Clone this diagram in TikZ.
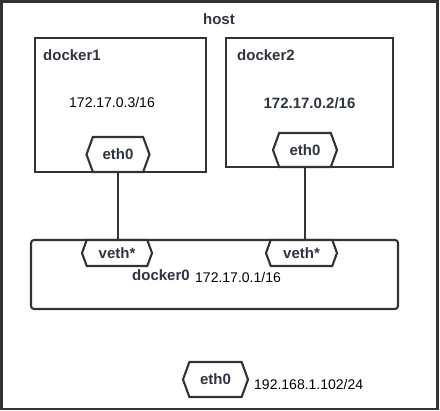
\documentclass[tikz,border=0pt]{standalone}
\usepackage{fontspec}
\setmainfont{Liberation Sans}
\usetikzlibrary{shapes.symbols}
\definecolor{linec}{HTML}{333333}
\definecolor{txtc}{HTML}{2F3540}
\tikzset{
  boxc/.style={draw=linec, line width=2.1pt},
  hexa/.style={signal, signal to=west and east, signal pointer angle=140, draw=linec, line width=2.1pt, fill=white, inner sep=0pt, text=txtc, font=\bfseries\fontsize{15}{15}\selectfont},
  blabel/.style={text=txtc, font=\bfseries\fontsize{15}{15}\selectfont, inner sep=0pt},
  iplabel/.style={text=black, font=\fontsize{14}{14}\selectfont, inner sep=0pt},
  wire/.style={draw=linec, line width=2.1pt}
}
\begin{document}
\begin{tikzpicture}[x=1pt,y=-1pt]
\useasboundingbox (0,0) rectangle (440,411);
\fill[white] (0,0) rectangle (440,411);
\draw[draw=linec, line width=2.6pt] (1.3,1.3) rectangle (437.7,409);
\node[blabel] (host) at (219,19) {host};
% docker1
\draw[boxc] (35,38) rectangle (206,172);
\node[blabel, anchor=west] (d1) at (43,55) {docker1};
\node[iplabel] (ip1) at (112,103) {172.17.0.3/16};
\node[hexa, minimum width=63pt, minimum height=35pt] (e1) at (118,154.5) {eth0};
% docker2
\draw[boxc] (226,38) rectangle (393,167);
\node[blabel, anchor=west] (d2) at (237,55) {docker2};
\node[blabel] (ip2) at (309.5,103) {172.17.0.2/16};
\node[hexa, minimum width=64pt, minimum height=34pt] (e2) at (305,150) {eth0};
% docker0
\draw[boxc, rounded corners=3pt] (31,240) rectangle (398,309);
\node[hexa, minimum width=70pt, minimum height=26pt] (v1) at (117,253) {veth*};
\node[hexa, minimum width=71pt, minimum height=26pt] (v2) at (301.5,253) {veth*};
\node[blabel, anchor=west] (d0) at (132,275) {docker0};
\node[iplabel, anchor=west] (ip0) at (195,278) {172.17.0.1/16};
% host eth0
\node[hexa, minimum width=65pt, minimum height=35pt] (e3) at (215.5,379.5) {eth0};
\node[iplabel, anchor=west] (ip3) at (254,384) {192.168.1.102/24};
% wires
\draw[wire] (e1.south) -- (e1.south |- v1.north);
\draw[wire] (e2.south) -- (e2.south |- v2.north);
\end{tikzpicture}
\end{document}
